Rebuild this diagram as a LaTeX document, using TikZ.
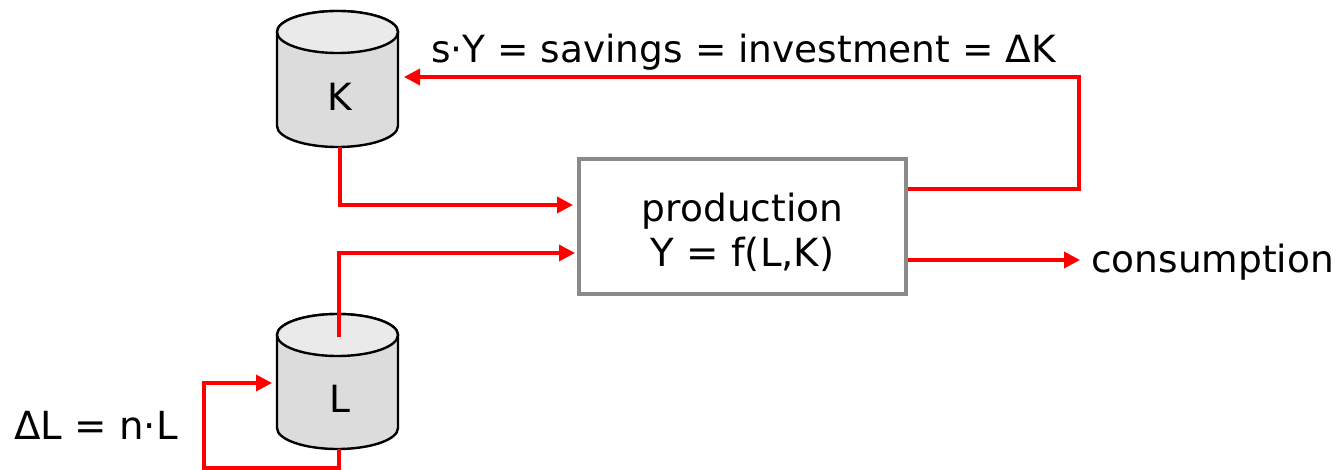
\documentclass[tikz,border=0pt]{standalone}
\usepackage{fontspec}
\setmainfont{DejaVu Sans}
\usetikzlibrary{arrows.meta}
\definecolor{cylside}{HTML}{DCDCDC}
\definecolor{cyltop}{HTML}{EAEAEA}
\definecolor{boxgray}{HTML}{8A8A8A}
\tikzset{
  x=1pt,y=-1pt,
  cylbox/.style={minimum width=121pt,minimum height=138pt,inner sep=0pt},
  flow/.style={draw=red,line width=3.5pt,-{Triangle[length=16pt,width=16pt]},line join=miter},
  lbl/.style={font=\fontsize{37.5}{45}\selectfont,inner sep=0pt,text=black,anchor=base},
  lblwide/.style={lbl,font=\fontsize{38.7}{45}\selectfont},
}
\newcommand{\drawcyl}[3]{% x-centre, y-top, y-bottom
  \path[fill=cylside,draw=black,line width=2.4pt]
    (#1-60.5,#2+21) -- (#1-60.5,#3-21)
    arc[start angle=180,end angle=360,x radius=60.5pt,y radius=21pt]
    -- (#1+60.5,#2+21)
    arc[start angle=0,end angle=180,x radius=60.5pt,y radius=21pt] -- cycle;
  \path[fill=cyltop,draw=black,line width=2.4pt]
    (#1,#2+21) ellipse[x radius=60.5pt,y radius=21pt];
}
\begin{document}
\begin{tikzpicture}
\useasboundingbox (0,0) rectangle (1336,470);
\drawcyl{337.5}{11}{147}
\drawcyl{337.5}{314}{449}
\node[cylbox] (K) at (339.5,79) {};
\node[lbl] (Ktxt) at (340,110.5) {K};
\node[cylbox] (L) at (339.5,381) {};
\node[lbl] (Ltxt) at (340,412) {L};
\node[draw=boxgray,line width=3.5pt,fill=white,minimum width=327pt,minimum height=135pt,inner sep=0pt] (P) at (742.5,226.5) {};
\node[lbl] (Ptxt1) at (742.5,221.5) {production};
\node[lblwide] (Ptxt2) at (742.5,266.5) {Y = f(L,K)};
\node[lbl,anchor=base west] (C) at (1091,272.5) {consumption};
\node[lbl,anchor=base west] (S) at (431,63) {s·Y = savings = investment = ΔK};
\node[lblwide,anchor=base west] (D) at (14,439) {ΔL = n·L};
\coordinate (Lstart) at (339,337);
\coordinate (Pin1) at (573,205);
\coordinate (Pin2) at (575,253);
\coordinate (Pout1) at (P.east |- 0,189);
\coordinate (Pout2) at (P.east |- 0,260);
\coordinate (Cend) at (1080,260);
\coordinate (Kin) at (404,77);
\coordinate (Lin) at (272,383);
\draw[flow] (340,147) -- (340,205) -- (Pin1);
\draw[flow] (Lstart) -- (339,253) -- (Pin2);
\draw[flow] (339,449) -- (339,468) -- (204,468) -- (204,383) -- (Lin);
\draw[flow] (Pout1) -- (1079,189) -- (1079,77) -- (Kin);
\draw[flow] (Pout2) -- (Cend);
\end{tikzpicture}
\end{document}
